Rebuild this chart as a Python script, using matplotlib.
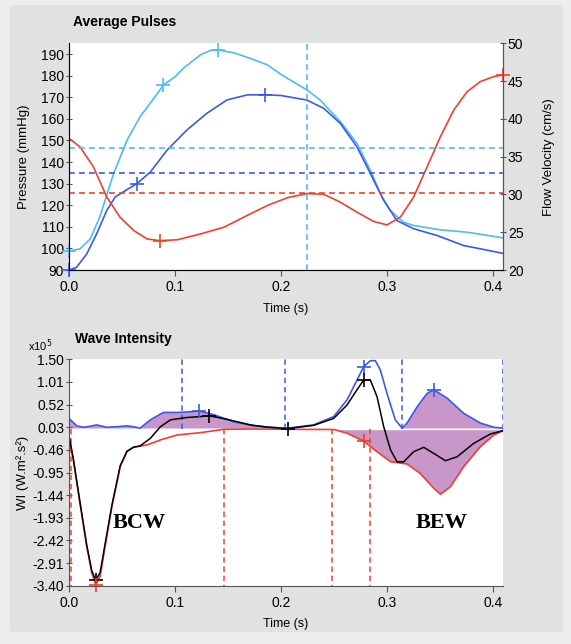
import numpy as np
import matplotlib
matplotlib.use("Agg")
import matplotlib.pyplot as plt
from matplotlib.patches import FancyBboxPatch

plt.rcParams["font.family"] = ["Liberation Sans", "DejaVu Sans"]

# ---- Average pulses (all read in mmHg units of the left axis) ----
t_light = [0, .0104, .02, .029, .042, .0546, .067, .08, .089, .1, .108, .124, .133, .14, .156, .171,
           .187, .2, .2242, .2368, .2557, .2714, .284, .2934, .3028, .3154, .3248, .35, .3752, .409]
p_light = [98.7, 99.8, 104.4, 114.5, 134.6, 150, 161, 169.5, 175.7, 179.5, 183.5, 189.7, 191.6, 192, 190.5, 188,
           185, 180.5, 173.4, 168.7, 158.7, 148.6, 136.2, 125.3, 117.6, 112.1, 110.6, 108.6, 107.5, 104.9]

t_blue = [0, .007, .0167, .026, .0356, .0435, .0546, .064, .0767, .0924, .111, .130, .149, .168,
          .185, .2, .2242, .24, .2557, .2714, .284, .2966, .309, .3248, .3468, .372, .3878, .409]
p_blue = [90, 91.2, 97.4, 106.7, 117.6, 123.8, 127.2, 130, 135.4, 145.5, 154.8, 162.6, 168.8, 171.1,
          171.2, 170.8, 168.7, 164.9, 157.9, 147, 134.7, 122.2, 112.9, 109.1, 106, 101.3, 99.8, 97.7]

t_red = [0, .0104, .023, .0356, .048, .061, .0735, .0855, .102, .124, .146, .168, .187, .206,
         .2242, .24, .2557, .2714, .287, .2997, .3123, .3248, .3374, .35, .3626, .3752, .3878, .4004, .409]
p_red = [151, 147, 137.8, 123.8, 114.5, 108.3, 104.4, 103.6, 104, 106.7, 109.8, 115.3, 119.9, 123.5,
         125.4, 125.1, 121.4, 116.8, 112.5, 110.9, 114.5, 123.8, 137.7, 151.7, 164.1, 172.6, 177.3, 179.6, 180.4]

mean_light, mean_blue, mean_red = 146.6, 135.0, 125.7
t_cursor = 0.2242

mk_light_t, mk_light_p = [0, .089, .14], [98.7, 175.7, 192]
mk_blue_t, mk_blue_p = [0, .064, .185], [90, 130, 171.2]
mk_red_t, mk_red_p = [.0855, .409], [103.6, 180.4]

# ---- Wave intensity (x10^5) ----
t_wf = [0, .0073, .0136, .02, .026, .0356, .045, .0546, .061, .067, .0767, .089, .102, .111, .1224,
        .1366, .155, .1745, .1965, .206, .2305, .2494, .262, .2714, .2777, .284, .2887, .2934, .2997,
        .3075, .3139, .3186, .328, .3374, .3437, .3563, .372, .3877, .4003, .409]
w_f = [0.22, 0.06, 0.03, 0.05, 0.08, 0.03, 0.04, 0.06, 0.04, 0.01, 0.19, 0.35, 0.35, 0.36, 0.38,
       0.3, 0.15, 0.06, 0.02, 0.01, 0.08, 0.26, 0.62, 1.05, 1.34, 1.47, 1.47, 1.27, 0.76,
       0.19, 0.01, 0.12, 0.47, 0.76, 0.84, 0.66, 0.33, 0.12, 0.03, 0.01]

t_wb = [0, .0041, .0104, .0167, .0215, .0252, .0293, .034, .0404, .0483, .0546, .0609, .0735, .0861,
        .1019, .124, .146, .171, .206, .25, .262, .2777, .2903, .303, .3186, .331, .3437, .35, .3594,
        .372, .3877, .4003, .409]
w_b = [-0.17, -0.68, -1.62, -2.55, -3.13, -3.38, -3.2, -2.55, -1.69, -0.82, -0.5, -0.405, -0.354, -0.246,
       -0.138, -0.087, -0.015, -0.008, -0.015, -0.02, -0.1, -0.27, -0.5, -0.716, -0.766, -0.97, -1.29, -1.42, -1.26,
       -0.82, -0.39, -0.14, -0.045]

t_wn = [0, .0041, .0104, .0167, .0215, .0252, .0293, .034, .0404, .0483, .0546, .0609, .067, .0767,
        .0861, .0956, .111, .124, .1319, .149, .171, .187, .206, .2305, .2494, .262, .2714, .2777, .284,
        .2903, .2966, .303, .3092, .3154, .3248, .3343, .3437, .3547, .3657, .3814, .3971, .409]
w_n = [-0.15, -0.66, -1.6, -2.52, -3.08, -3.28, -3.12, -2.5, -1.66, -0.8, -0.49, -0.4, -0.375, -0.21,
       0.04, 0.19, 0.24, 0.26, 0.28, 0.2, 0.08, 0.03, 0.0, 0.07, 0.22, 0.51, 0.84, 1.05, 1.05,
       0.69, 0.04, -0.46, -0.72, -0.72, -0.5, -0.405, -0.535, -0.695, -0.61, -0.32, -0.117, -0.045]

mk_f = ([.1224, .2777, .3437], [0.38, 1.34, 0.84])
mk_n = ([.0252, .1319, .2066, .2777], [-3.28, 0.28, 0.0, 1.05])
mk_b = ([.0252, .2777], [-3.38, -0.27])

vlines_f = [0.1066, 0.2035, 0.3139, 0.4088]
vlines_b = [0.0015, 0.1464, 0.2478, 0.2833]
wi_ticks = [1.50, 1.01, 0.52, 0.03, -0.46, -0.95, -1.44, -1.93, -2.42, -2.91, -3.40]

c_light = "#4cbcf5"
c_blue = "#3a5ae8"
c_red = "#f2402e"
c_fill = "#c896c8"

fig = plt.figure(figsize=(5.71, 6.44), dpi=100, facecolor="#ededed")
fig.patches.append(FancyBboxPatch((10 / 571, 12 / 644), 553 / 571, 627 / 644,
                                  boxstyle="round,pad=0,rounding_size=0.006",
                                  transform=fig.transFigure, facecolor="#e1e1e1",
                                  edgecolor="none", zorder=-5))

spine_c = "#555555"
dash = (0, (3.5, 2.5))

# ---- top panel ----
ax = fig.add_axes([69 / 571, 1 - 270 / 644, 434 / 571, 226.7 / 644])
ax.plot(t_light, p_light, color=c_light, lw=1.2)
ax.plot(t_blue, p_blue, color=c_blue, lw=1.2)
ax.plot(t_red, p_red, color=c_red, lw=1.2)
ax.axhline(mean_light, color=c_light, ls=dash, lw=1.2)
ax.axhline(mean_blue, color=c_blue, ls=dash, lw=1.2)
ax.axhline(mean_red, color=c_red, ls=dash, lw=1.2)
ax.axvline(t_cursor, color=c_light, ls=dash, lw=1.2)
ax.plot(mk_light_t, mk_light_p, "+", color=c_light, ms=10, mew=1.2, clip_on=False)
ax.plot(mk_blue_t, mk_blue_p, "+", color=c_blue, ms=10, mew=1.2, clip_on=False)
ax.plot(mk_red_t, mk_red_p, "+", color=c_red, ms=10, mew=1.2, clip_on=False)
ax.set_xlim(0, 0.409)
ax.set_ylim(90, 195)
ax.set_yticks(np.arange(90, 191, 10))
ax.set_xticks([0, 0.1, 0.2, 0.3, 0.4])
ax.set_xticklabels(["0.0", "0.1", "0.2", "0.3", "0.4"])
ax.set_ylabel("Pressure (mmHg)", fontsize=9.5, labelpad=8)
ax.set_xlabel("Time (s)", fontsize=9, labelpad=6)
ax.spines["top"].set_visible(False)
for s in ["left", "bottom", "right"]:
    ax.spines[s].set_color(spine_c)
ax.tick_params(axis="y", direction="inout", length=5, labelsize=10, pad=1, color=spine_c)
ax.tick_params(axis="x", direction="out", length=4, labelsize=10, color=spine_c)

ax2 = ax.twinx()
ax2.set_ylim(20, 50)
ax2.set_yticks(np.arange(20, 51, 5))
ax2.set_ylabel("Flow Velocity (cm/s)", fontsize=9.5, labelpad=14)
ax2.spines["top"].set_visible(False)
ax2.spines["right"].set_color(spine_c)
ax2.tick_params(axis="y", direction="inout", length=5, labelsize=10, pad=1, color=spine_c)

fig.text(73 / 571, 1 - 22 / 644, "Average Pulses", fontsize=10, fontweight="bold", va="center")

# ---- bottom panel ----
bx = fig.add_axes([69 / 571, 1 - 585.7 / 644, 434 / 571, 226.4 / 644])
tf = np.array(t_wf)
wf = np.array(w_f)
tb = np.array(t_wb)
wb = np.array(w_b)
bx.fill_between(tf, 0, wf, where=((tf <= 0.2035) | (tf >= 0.3139)) & (wf > 0),
                color=c_fill, lw=0, interpolate=True)
bx.fill_between(tb, 0, wb, where=tb >= 0.2478, color=c_fill, lw=0)
bx.axhline(0.0, color="white", lw=1.0, zorder=1)
for v in vlines_f:
    bx.plot([v, v], [0, 1.5], color=c_blue, ls=dash, lw=1.1)
for v in vlines_b:
    bx.plot([v, v], [0, -3.4], color=c_red, ls=dash, lw=1.1)
bx.plot(t_wf, w_f, color=c_blue, lw=1.2)
bx.plot(t_wb, w_b, color=c_red, lw=1.2)
bx.plot(t_wn, w_n, color="black", lw=1.1)
bx.plot(*mk_f, "+", color=c_blue, ms=10, mew=1.2, clip_on=False)
bx.plot(*mk_n, "+", color="black", ms=10, mew=1.2, clip_on=False)
bx.plot(*mk_b, "+", color=c_red, ms=10, mew=1.2, clip_on=False)
bx.text(0.066, -2.04, "BCW", family="Liberation Serif", fontweight="bold", fontsize=16,
        ha="center", va="center")
bx.text(0.3516, -2.05, "BEW", family="Liberation Serif", fontweight="bold", fontsize=16,
        ha="center", va="center")
bx.set_xlim(0, 0.409)
bx.set_ylim(-3.40, 1.50)
bx.set_yticks(wi_ticks)
bx.set_yticklabels(["%.2f" % v for v in wi_ticks])
bx.set_xticks([0, 0.1, 0.2, 0.3, 0.4])
bx.set_xticklabels(["0.0", "0.1", "0.2", "0.3", "0.4"])
bx.set_ylabel("WI (W.m\u00b2.s\u00b2)", fontsize=9.5, labelpad=2)
bx.set_xlabel("Time (s)", fontsize=9, labelpad=6)
bx.spines["top"].set_visible(False)
bx.spines["right"].set_visible(False)
for s in ["left", "bottom"]:
    bx.spines[s].set_color(spine_c)
bx.tick_params(axis="y", direction="inout", length=5, labelsize=10, pad=1, color=spine_c)
bx.tick_params(axis="x", direction="out", length=4, labelsize=10, color=spine_c)

fig.text(75 / 571, 1 - 339 / 644, "Wave Intensity", fontsize=10, fontweight="bold", va="center")
fig.text(28 / 571, 1 - 346 / 644, r"x10$^5$", fontsize=8, va="center")

fig.savefig("out.png", dpi=100, facecolor=fig.get_facecolor())
